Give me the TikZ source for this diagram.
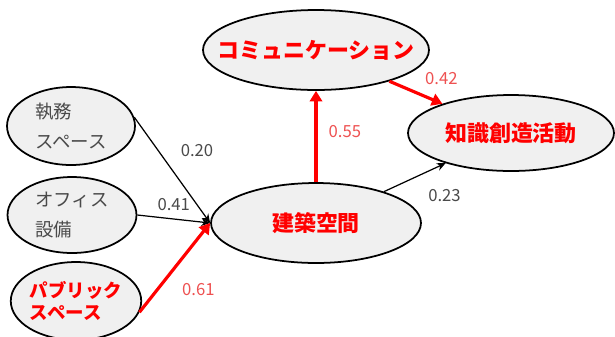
\documentclass[tikz,border=0pt]{standalone}
\usepackage{fontspec}
\setmainfont{Noto Sans CJK JP}
\usetikzlibrary{arrows.meta,positioning,shapes.geometric}
\definecolor{nodefill}{HTML}{F0F0F0}
\definecolor{txtgray}{HTML}{4A4A4A}
\definecolor{lblred}{HTML}{EE5252}
\tikzset{
  factor/.style={ellipse,draw=black,line width=1pt,fill=nodefill,inner sep=0pt},
  subtxt/.style={text=txtgray,align=left,font=\fontsize{10.5}{17.5}\selectfont},
  keytxt/.style={text=red,font=\bfseries\fontsize{12.5}{14}\selectfont},
  weak/.style={->,>={Stealth[length=5pt,width=4.5pt]},line width=0.7pt},
  strong/.style={->,>={Triangle[length=6pt,width=7pt]},draw=red,line width=1.8pt},
  coef/.style={text=txtgray,font=\fontsize{9.5}{11}\selectfont},
  coefred/.style={text=lblred,font=\fontsize{9.5}{11}\selectfont}
}

\begin{document}
\begin{tikzpicture}[x=0.02cm,y=-0.02cm]
  \useasboundingbox (0,0) rectangle (615,336);
  % factors on the left
  \node[factor,subtxt,minimum width=2.56cm,minimum height=1.56cm] (shitsumu) at (71,126) {執務\\スペース};
  \node[factor,subtxt,minimum width=2.58cm,minimum height=1.52cm] (office) at (72,215) {オフィス\\設備};
  \node[factor,text=red,align=left,font=\bfseries\fontsize{10.5}{12.5}\selectfont,minimum width=2.52cm,minimum height=1.56cm] (public) at (76,301) {パブリック\\スペース};
  % central and outcome factors
  \node[factor,keytxt,minimum width=4.2cm,minimum height=1.6cm] (kenchiku) at (316,223) {建築空間};
  \node[factor,keytxt,inner xsep=-0.45cm,minimum width=4.52cm,minimum height=1.6cm] (comm) at (316,50) {コミュニケーション};
  \node[factor,keytxt,minimum width=4.12cm,minimum height=1.52cm] (chishiki) at (511,133) {知識創造活動};
  % paths
  \draw[weak] (shitsumu.8) -- node[coef,pos=0.32,right=9pt] {0.20} (kenchiku.west);
  \draw[weak] (office.east) -- node[coef,pos=0.5,above=1pt] {0.41} (kenchiku.west);
  \draw[strong] (public.-10) -- node[coefred,pos=0.5,below right=5pt and 0pt] {0.61} (kenchiku.west);
  \draw[strong] (kenchiku.north) -- node[coefred,pos=0.55,right=3pt] {0.55} (comm.south);
  \draw[strong] (comm) -- node[coefred,pos=0.5,above right=0pt and 1pt] {0.42} (chishiki);
  \draw[weak] (kenchiku) -- node[coef,pos=0.5,below right=3pt and 4pt] {0.23} (chishiki);
\end{tikzpicture}
\end{document}
